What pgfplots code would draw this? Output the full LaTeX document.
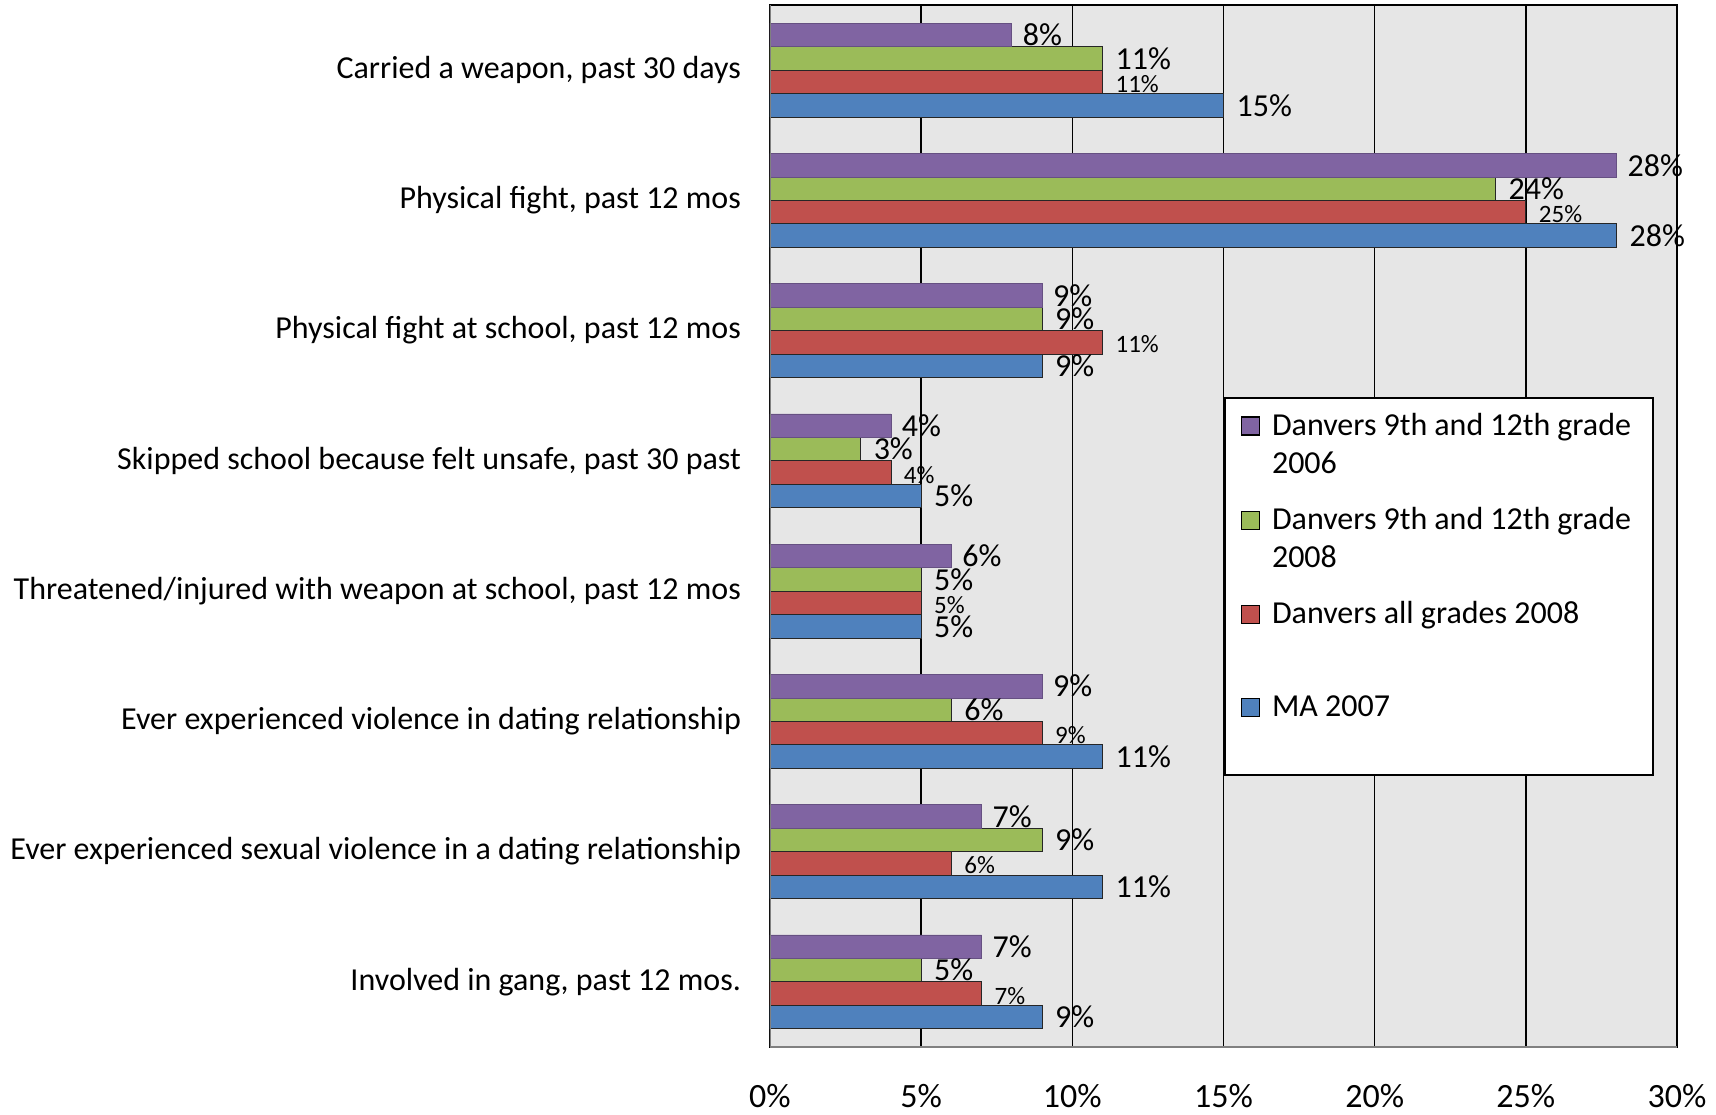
\documentclass[border=0pt]{standalone}
\usepackage{pgfplots}
\usepackage{pgfplotstable}
\pgfplotsset{compat=1.18}
\usepackage{fontspec}
\setmainfont{Carlito}

\definecolor{c06}{HTML}{8064A2}
\definecolor{c08}{HTML}{9BBB59}
\definecolor{call}{HTML}{C0504D}
\definecolor{cma}{HTML}{4F81BD}
\definecolor{plotbg}{HTML}{E6E6E6}

% y: 7 = top category
\pgfplotstableread{
y  p06 g08 rall ma
7  8   11  11   15
6  28  24  25   28
5  9   9   11   9
4  4   3   4    5
3  6   5   5    5
2  9   6   9    11
1  7   9   6    11
0  7   5   7    9
}\datatable

\begin{document}
\begin{tikzpicture}
\path[use as bounding box] (-385pt,-33.5pt) rectangle (473pt,523.5pt);
\begin{axis}[
  at={(0pt,0pt)}, anchor=south west,
  scale only axis, width=453.5pt, height=521pt,
  xbar, bar width=0.18,
  xmin=0, xmax=30, ymin=-0.5, ymax=7.5,
  xtick={0,5,...,30},
  xticklabel={\pgfmathprintnumber{\tick}\%},
  ytick={0,...,7},
  yticklabels={{Involved in gang, past 12 mos.},
    {Ever experienced sexual violence in a dating relationship},
    {Ever experienced violence in dating relationship},
    {Threatened/injured with weapon at school, past 12 mos},
    {Skipped school because felt unsafe, past 30 past},
    {Physical fight at school, past 12 mos},
    {Physical fight, past 12 mos},
    {Carried a weapon, past 30 days}},
  major tick length=0pt,
  xmajorgrids, grid style={black, line width=0.8pt},
  axis background/.style={fill=plotbg},
  axis line style={black, line width=1pt},
  /pgf/number format/assume math mode=true,
  tick label style={font=\fontsize{16}{19}\selectfont},
  xticklabel style={font=\fontsize{17}{20}\selectfont, anchor=center, yshift=-24.5pt},
  yticklabel style={xshift=-11pt},
  point meta=x,
  nodes near coords={\pgfmathprintnumber{\pgfplotspointmeta}\%},
  every node near coord/.append style={font=\fontsize{16}{19}\selectfont, anchor=west, xshift=3pt, black},
  reverse legend,
  legend image code/.code={\draw[#1, draw=black, line width=0.6pt] (0pt,0pt) rectangle (9pt,9pt);},
  legend style={at={(0.5006,0.6238)}, anchor=north west, draw=black, line width=0.8pt, fill=white,
    font=\fontsize{16}{19}\selectfont, inner xsep=8pt, inner ysep=5.5pt, row sep=10pt,
    cells={anchor=base west}, nodes={inner xsep=3pt, inner ysep=2pt, text depth=22pt}},
]
\addplot[fill=cma, draw=black!85, bar shift=-0.27] table[x=ma, y=y] {\datatable};
\addlegendentry{\kern3pt\vtop{\hbox to 179.5pt{MA 2007\hfil}\hbox{}}}
\addplot[fill=call, draw=black!85, bar shift=-0.09,
  every node near coord/.append style={font=\fontsize{12.5}{15}\selectfont, yshift=-1pt}] table[x=rall, y=y] {\datatable};
\addlegendentry{\kern3pt\vtop{\hbox to 179.5pt{Danvers all grades 2008\hfil}\hbox{}}}
\addplot[fill=c08, draw=black!85, bar shift=0.09] table[x=g08, y=y] {\datatable};
\addlegendentry{\kern3pt\vtop{\hbox to 179.5pt{Danvers 9th and 12th grade\hfil}\hbox{2008}}}
\addplot[fill=c06, draw=c06!80!black, bar shift=0.27,
  every node near coord/.append style={xshift=-1pt}] table[x=p06, y=y] {\datatable};
\addlegendentry{\kern3pt\vtop{\hbox to 179.5pt{Danvers 9th and 12th grade\hfil}\hbox{2006}}}
\draw[color=gray, line width=1.4pt] (rel axis cs:0,0) -- (rel axis cs:0,1);
\draw[color=gray, line width=1.4pt] (rel axis cs:0,0) -- (rel axis cs:1,0);
\end{axis}
\end{tikzpicture}
\end{document}
